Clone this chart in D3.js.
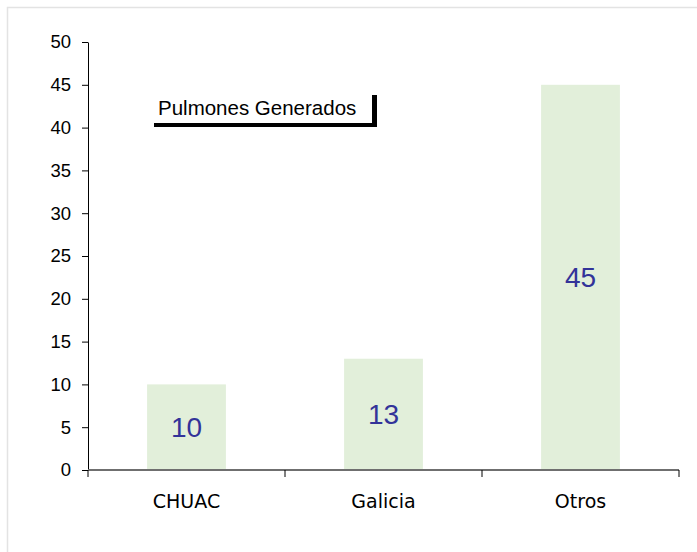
<!DOCTYPE html>
<html lang="es">
<head>
<meta charset="UTF-8">
<title>Pulmones Generados</title>
<script src="https://cdn.jsdelivr.net/npm/d3@7/dist/d3.min.js"></script>
<style>
  body { margin: 0; background: #fff; }
  .ytick text { font: 18.5px "Liberation Sans", Arial, sans-serif; fill: #000; }
  .xlab { font: 19px "DejaVu Sans", sans-serif; fill: #000; }
  .val { font: 28px "Liberation Sans", Arial, sans-serif; fill: #333399; }
  .legend { font: 20.5px "Liberation Sans", Arial, sans-serif; fill: #000; }
</style>
</head>
<body>
<div id="chart"></div>
<script>
// data
const categories = ["CHUAC", "Galicia", "Otros"];
const values = [10, 13, 45];
const yTicks = [0, 5, 10, 15, 20, 25, 30, 35, 40, 45, 50];
const seriesName = "Pulmones Generados";

const W = 697, H = 552;
const plot = { left: 88, right: 679, top: 42, bottom: 470 };

const svg = d3.select("#chart").append("svg")
    .attr("width", W)
    .attr("height", H);

// outer frame (faint)
svg.append("rect")
    .attr("x", 7.5).attr("y", 7.5)
    .attr("width", W).attr("height", H)
    .attr("fill", "#fff")
    .attr("stroke", "#e3e3e3")
    .attr("stroke-width", 1.5);

const x = d3.scaleBand()
    .domain(categories)
    .range([plot.left, plot.right])
    .paddingInner(0.6)
    .paddingOuter(0.3);

const y = d3.scaleLinear()
    .domain([0, 50])
    .range([plot.bottom, plot.top]);

// bars
svg.append("g")
    .selectAll("rect")
    .data(values)
    .enter().append("rect")
    .attr("x", (d, i) => x(categories[i]))
    .attr("y", d => y(d))
    .attr("width", x.bandwidth())
    .attr("height", d => y(0) - y(d))
    .attr("fill", "#e2efda");

// value labels
svg.append("g")
    .selectAll("text")
    .data(values)
    .enter().append("text")
    .attr("class", "val")
    .attr("x", (d, i) => x(categories[i]) + x.bandwidth() / 2)
    .attr("y", d => (y(d) + y(0)) / 2)
    .attr("dy", "0.35em")
    .attr("text-anchor", "middle")
    .text(d => d);

// y axis
const yAxis = svg.append("g")
    .attr("class", "ytick")
    .attr("transform", `translate(${plot.left},0)`)
    .call(d3.axisLeft(y).tickValues(yTicks).tickSize(6).tickPadding(11).tickSizeOuter(0));
yAxis.select(".domain").attr("stroke", "#000").attr("stroke-width", 1);
yAxis.selectAll("line").attr("stroke", "#000");

// x axis: ticks at band boundaries
const bounds = d3.range(categories.length + 1)
    .map(i => plot.left + i * (plot.right - plot.left) / categories.length);
const xg = svg.append("g");
xg.append("line")
    .attr("x1", plot.left).attr("x2", plot.right)
    .attr("y1", y(0)).attr("y2", y(0))
    .attr("stroke", "#6f6f6f").attr("stroke-width", 2);
xg.selectAll("line.tk")
    .data(bounds)
    .enter().append("line")
    .attr("class", "tk")
    .attr("x1", d => d).attr("x2", d => d)
    .attr("y1", y(0)).attr("y2", y(0) + 7)
    .attr("stroke", "#000");
xg.selectAll("text")
    .data(categories)
    .enter().append("text")
    .attr("class", "xlab")
    .attr("x", d => x(d) + x.bandwidth() / 2)
    .attr("y", 508)
    .attr("text-anchor", "middle")
    .text(d => d);

// legend box with shadow on bottom/right
const lg = svg.append("g");
lg.append("rect")
    .attr("x", 154).attr("y", 95)
    .attr("width", 223).attr("height", 32)
    .attr("fill", "#000");
lg.append("rect")
    .attr("x", 150).attr("y", 88)
    .attr("width", 222).attr("height", 35)
    .attr("fill", "#fff");
lg.append("text")
    .attr("class", "legend")
    .attr("x", 158)
    .attr("y", 115)
    .text(seriesName);
</script>
</body>
</html>
